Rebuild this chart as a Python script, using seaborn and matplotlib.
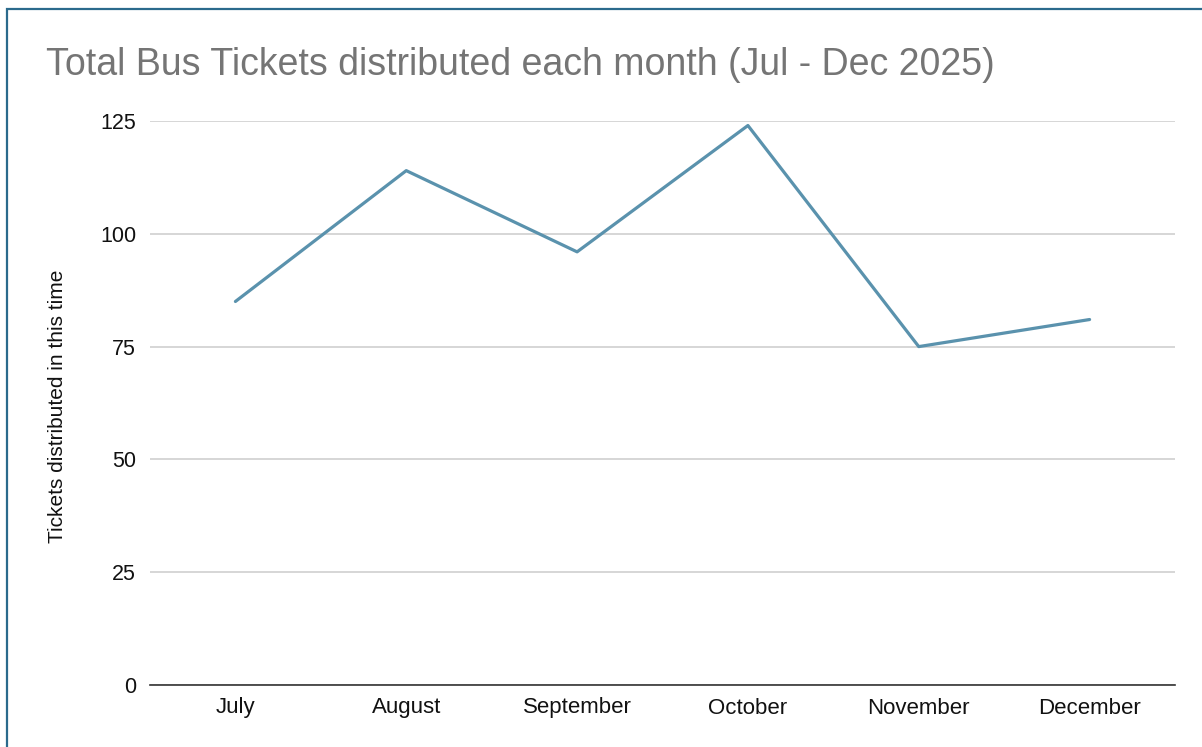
import matplotlib
matplotlib.use("Agg")
import matplotlib.pyplot as plt
import seaborn as sns
import pandas as pd
from matplotlib.patches import Rectangle

months = ["July", "August", "September", "October", "November", "December"]
tickets = [85, 114, 96, 124, 75, 81]
yticks = [0, 25, 50, 75, 100, 125]

sns.set_theme(style="white")
plt.rcParams['font.family'] = ['Liberation Sans', 'DejaVu Sans']

df = pd.DataFrame({"Month": months, "Tickets": tickets})

fig = plt.figure(figsize=(12.02, 7.47), dpi=100)
ax = fig.add_axes([150/1202, 1-685/747, (1175-150)/1202, (685-121)/747])

sns.lineplot(data=df, x="Month", y="Tickets", ax=ax, color="#5a92ad", linewidth=2.3, sort=False)

ax.set_xlim(-0.5, len(months)-0.5)
ax.set_ylim(0, 125)
ax.set_yticks(yticks)
ax.set_yticklabels([str(v) for v in yticks])
ax.yaxis.grid(True, color="#cccccc", linewidth=1.1)
ax.set_axisbelow(True)
for s in ["top", "right", "left"]:
    ax.spines[s].set_visible(False)
ax.spines["bottom"].set_color("#333333")
ax.spines["bottom"].set_linewidth(1.2)
ax.tick_params(axis="both", length=0, colors="#111111")
ax.tick_params(axis="y", pad=10, labelsize=15.5)
ax.tick_params(axis="x", pad=9, labelsize=16)
ax.set_xlabel("")
ax.set_ylabel("Tickets distributed in this time", fontsize=15, color="#111111")
ax.yaxis.set_label_coords(-83/1025, 0.495)

fig.text(46/1202, 1-65/747, "Total Bus Tickets distributed each month (Jul - Dec 2025)",
         fontsize=27, color="#757575", va="center", ha="left")

fig.patches.append(Rectangle((7/1202, -0.1), 1.2, 1-9/747+0.1, transform=fig.transFigure,
                             fill=False, edgecolor="#2b6a8c", linewidth=1.6, clip_on=False))

fig.savefig("out.png", dpi=100)
